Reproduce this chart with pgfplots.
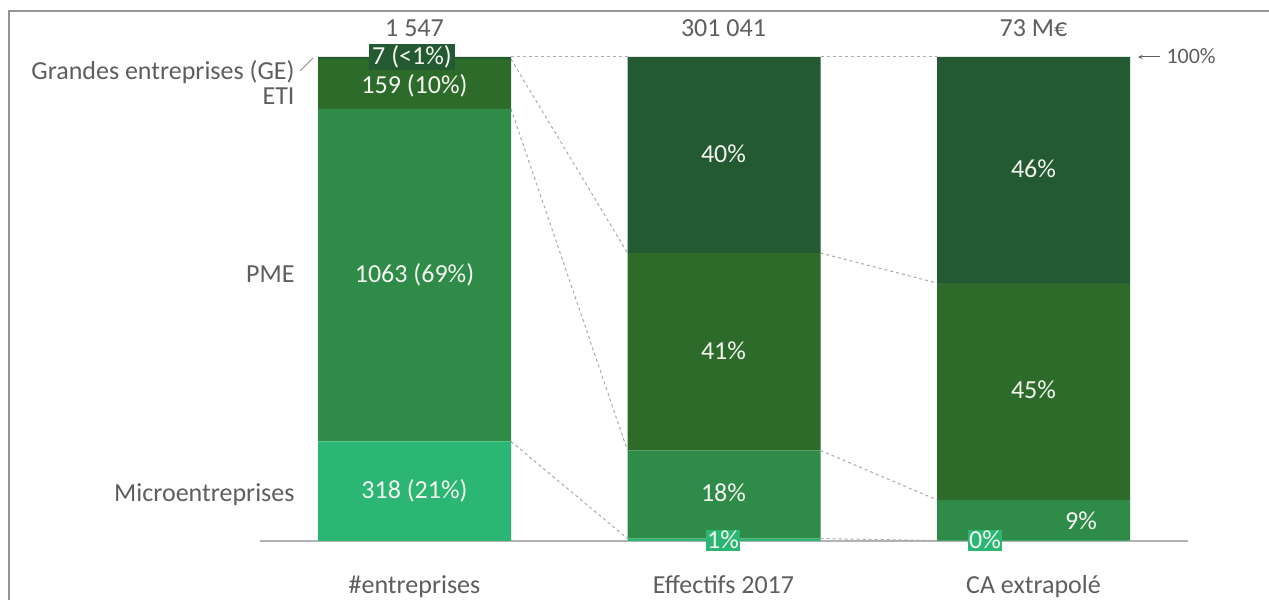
\documentclass[border=0pt]{standalone}
\usepackage{pgfplots}
\pgfplotsset{compat=1.18}
\usepackage{fontspec}
\setmainfont{Carlito}
\definecolor{ge}{HTML}{235A32}
\definecolor{eti}{HTML}{2D6B2B}
\definecolor{pme}{HTML}{2F8B48}
\definecolor{micro}{HTML}{2BB673}
\definecolor{txt}{HTML}{5E5E5E}
\definecolor{conn}{HTML}{AAAAAA}
\definecolor{val}{HTML}{F4F4F0}
\tikzset{connline/.style={draw=conn, line width=1bp, dash pattern=on 3bp off 3bp}}
\begin{document}
\begin{tikzpicture}
\useasboundingbox (0bp,0bp) rectangle (1269bp,600bp);
\fill[white] (0bp,0bp) rectangle (1269bp,600bp);
\draw[gray!85, line width=1.5bp] (9bp,0bp) -- (9bp,589bp) -- (1269bp,589bp);
\draw[gray!60, line width=1.2bp] (259.75bp,59bp) -- (1188.25bp,59bp);
\begin{axis}[at={(259.75bp,59bp)}, anchor=south west,
  x=309.5bp, y=4.84bp, xmin=-0.5, xmax=2.5, ymin=0, ymax=100,
  hide axis, clip=false, ybar stacked, bar width=193bp]
\addplot[fill=micro, draw=none] coordinates {(0,20.56) (1,0.5) (2,0.1)};
\addplot[fill=pme, draw=none] coordinates {(0,68.71) (1,18.2) (2,8.4)};
\addplot[fill=eti, draw=none] coordinates {(0,10.28) (1,40.8) (2,44.8)};
\addplot[fill=ge, draw=none] coordinates {(0,0.45) (1,40.5) (2,46.7)};
\draw[connline] (axis cs:0.3118,100) -- (axis cs:0.6882,100);
\draw[connline] (axis cs:0.3118,99.55) -- (axis cs:0.6882,59.5);
\draw[connline] (axis cs:0.3118,89.27) -- (axis cs:0.6882,18.7);
\draw[connline] (axis cs:0.3118,20.56) -- (axis cs:0.6882,0.5);
\draw[connline] (axis cs:1.3118,100) -- (axis cs:1.6882,100);
\draw[connline] (axis cs:1.3118,59.5) -- (axis cs:1.6882,53.3);
\draw[connline] (axis cs:1.3118,18.7) -- (axis cs:1.6882,8.5);
\draw[connline] (axis cs:1.3118,0.5) -- (axis cs:1.6882,0.1);
\end{axis}
\begin{scope}[every node/.style={font=\fontsize{26bp}{30bp}\selectfont}]
% top totals
\node[anchor=base, text=txt] at (414.5bp,563bp) {1 547};
\node[anchor=base, text=txt] at (723.5bp,563bp) {301 041};
\node[anchor=base, text=txt] at (1033.5bp,563bp) {73 M€};
% 100% marker
\draw[txt, line width=1bp, -stealth] (1160bp,543bp) -- (1138bp,543bp);
\node[anchor=base west, text=txt, font=\fontsize{22bp}{24bp}\selectfont] at (1163bp,536bp) {100\%};
% left labels
\node[anchor=base east, text=txt] at (298bp,520bp) {Grandes entreprises (GE)};
\draw[txt!70, line width=1bp] (300bp,529bp) -- (313bp,542bp);
\node[anchor=base east, text=txt] at (298bp,495bp) {ETI};
\node[anchor=base east, text=txt] at (298bp,317bp) {PME};
\node[anchor=base east, text=txt] at (298bp,98bp) {Microentreprises};
% column 1 values
\node[anchor=base, fill=ge, text=val, inner xsep=3bp, inner ysep=1.5bp] at (412bp,535bp) {7 (<1\%)};
\node[anchor=base, text=val] at (414.5bp,506bp) {159 (10\%)};
\node[anchor=base, text=val] at (414.5bp,317bp) {1063 (69\%)};
\node[anchor=base, text=val] at (414.5bp,101bp) {318 (21\%)};
% column 2 values
\node[anchor=base, text=val] at (723.5bp,437bp) {40\%};
\node[anchor=base, text=val] at (723.5bp,240bp) {41\%};
\node[anchor=base, text=val] at (723.5bp,98bp) {18\%};
\node[anchor=base, fill=micro, text=val, inner xsep=1.5bp, inner ysep=1.5bp] at (723bp,51bp) {1\%};
% column 3 values
\node[anchor=base, text=val] at (1033.5bp,422bp) {46\%};
\node[anchor=base, text=val] at (1033.5bp,201bp) {45\%};
\node[anchor=base, text=val] at (1081bp,70bp) {9\%};
\node[anchor=base, fill=micro, text=val, inner xsep=1.5bp, inner ysep=1.5bp] at (985bp,51bp) {0\%};
% category labels
\node[anchor=base, text=txt] at (414.5bp,7bp) {\#entreprises};
\node[anchor=base, text=txt] at (723.5bp,7bp) {Effectifs 2017};
\node[anchor=base, text=txt] at (1033.5bp,7bp) {CA extrapolé};
\end{scope}
\end{tikzpicture}
\end{document}
